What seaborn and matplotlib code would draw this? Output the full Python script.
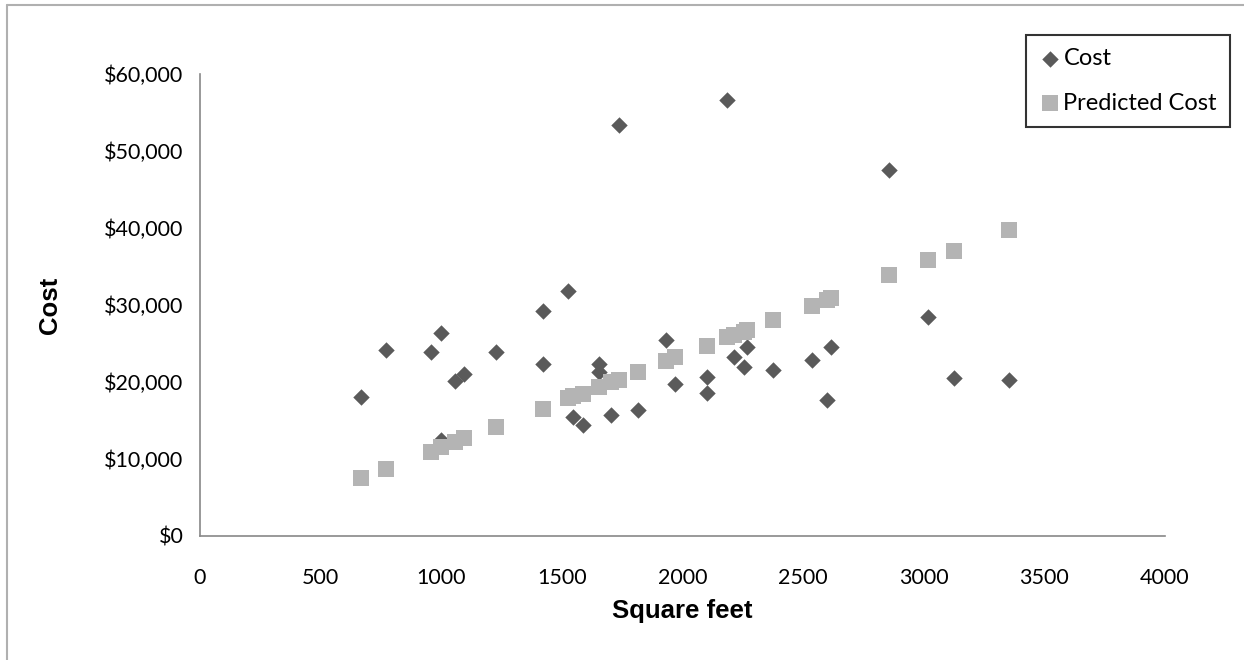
import matplotlib
matplotlib.use("Agg")
import matplotlib.pyplot as plt
import matplotlib.ticker as mticker
from matplotlib.lines import Line2D
import seaborn as sns
import pandas as pd

# square footage of each house
sqft = [669, 772, 957, 999, 999, 1057, 1096, 1226, 1420, 1420, 1525, 1548, 1586,
        1652, 1652, 1704, 1735, 1815, 1932, 1969, 2100, 2100, 2185, 2214, 2255,
        2269, 2377, 2535, 2598, 2614, 2857, 3019, 3125, 3352]

# actual cost
cost = [18000, 24200, 23900, 26300, 12500, 20100, 21000, 23900, 29200, 22300,
        31800, 15400, 14400, 22400, 21300, 15750, 53400, 16300, 25450, 19800,
        20600, 18600, 56600, 23200, 22000, 24600, 21500, 22900, 17600, 24600,
        47500, 28400, 20500, 20300]

# predicted cost (read from the squares)
predicted = [7500, 8700, 10950, 11500, 11500, 12200, 12700, 14200, 16500, 16500,
             17900, 18200, 18500, 19300, 19300, 20000, 20300, 21300, 22700, 23200,
             24700, 24700, 25800, 26100, 26500, 26750, 28050, 29900, 30600, 30900,
             33900, 35800, 37000, 39800]

df = pd.DataFrame({"Square feet": sqft, "Cost": cost, "Predicted Cost": predicted})

sns.set_style("white")
plt.rcParams["font.family"] = ["Lato", "DejaVu Sans"]
plt.rcParams["text.color"] = "black"
plt.rcParams["axes.labelcolor"] = "black"

fig = plt.figure(figsize=(12.44, 6.6), dpi=100)
ax = fig.add_axes([0.1608, 0.1879, 0.7757, 0.7])

sns.scatterplot(data=df, x="Square feet", y="Cost", ax=ax, marker="D",
                color="#5a5a5a", s=70, linewidth=0, label="Cost")
sns.scatterplot(data=df, x="Square feet", y="Predicted Cost", ax=ax, marker="s",
                color="#b4b4b4", s=120, linewidth=0, label="Predicted Cost")

ax.set_xlim(0, 4000)
ax.set_ylim(0, 60000)
ax.set_xticks(range(0, 4001, 500))
ax.set_yticks(range(0, 60001, 10000))
ax.yaxis.set_major_formatter(mticker.StrMethodFormatter("${x:,.0f}"))

for side in ["top", "right"]:
    ax.spines[side].set_visible(False)
for side in ["left", "bottom"]:
    ax.spines[side].set_color("#888888")
    ax.spines[side].set_linewidth(1.2)
ax.tick_params(axis="both", which="major", direction="out", length=6, width=1.2,
               color="#888888", labelsize=15.5, labelcolor="black")
ax.tick_params(axis="x", pad=17)
ax.tick_params(axis="y", pad=6)

ax.set_xlabel("Square feet", fontsize=18.5, fontweight="bold", color="black",
              family=["Liberation Sans", "DejaVu Sans"], labelpad=8)
ax.set_ylabel("Cost", fontsize=18.5, fontweight="bold", color="black",
              family=["Liberation Sans", "DejaVu Sans"])
ax.yaxis.set_label_coords(-0.143, 0.5)

leg = ax.legend(loc="upper right", bbox_to_anchor=(0.9887, 0.947),
                bbox_transform=fig.transFigure, frameon=True, fancybox=False,
                fontsize=17, labelspacing=1.0, handletextpad=0.05,
                handlelength=1.0, borderpad=0.55, borderaxespad=0,
                labelcolor="black")
leg.get_frame().set_edgecolor("black")
leg.get_frame().set_linewidth(1.5)

# outer chart border (left and top visible)
fig.add_artist(Line2D([0.0056, 0.0056], [0, 0.992], transform=fig.transFigure,
                      color="#b0b0b0", linewidth=1.5))
fig.add_artist(Line2D([0.0056, 1.0], [0.992, 0.992], transform=fig.transFigure,
                      color="#b0b0b0", linewidth=1.5))

fig.savefig("out.png", dpi=100)
